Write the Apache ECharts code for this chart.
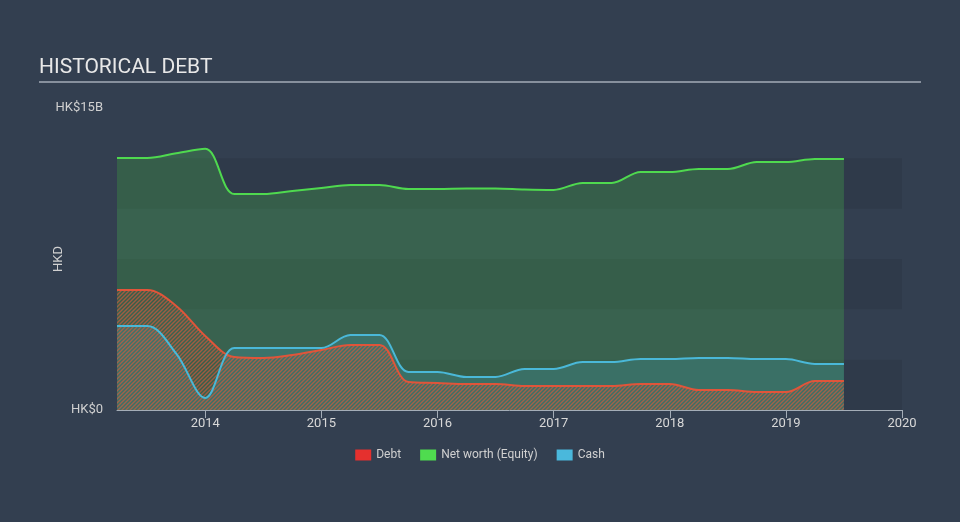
<!DOCTYPE html>
<html>
<head>
<meta charset="utf-8">
<script src="https://cdn.jsdelivr.net/npm/echarts@6/dist/echarts.min.js"></script>
<style>
html,body{margin:0;padding:0;background:#333f50;}
#c{width:960px;height:522px;}
</style>
</head>
<body>
<div id="c"></div>
<script>
const years = [2013.24,2013.5,2013.75,2014.0,2014.25,2014.5,2014.75,2015.0,2015.25,2015.5,2015.75,2016.0,2016.25,2016.5,2016.75,2017.0,2017.25,2017.5,2017.75,2018.0,2018.25,2018.5,2018.75,2019.0,2019.25,2019.5];
const debt = [5.96,5.96,5.17,3.68,2.63,2.58,2.73,2.98,3.23,3.23,1.39,1.34,1.29,1.29,1.19,1.19,1.19,1.19,1.29,1.29,0.99,0.99,0.89,0.89,1.44,1.44];
const equity = [12.52,12.52,12.75,12.97,10.73,10.73,10.88,11.03,11.18,11.18,10.98,10.98,11.0,11.0,10.95,10.93,11.28,11.28,11.82,11.82,11.97,11.97,12.32,12.32,12.47,12.47];
const cash = [4.17,4.17,2.8,0.6,3.08,3.08,3.08,3.08,3.73,3.73,1.89,1.89,1.64,1.64,2.04,2.04,2.38,2.38,2.53,2.53,2.58,2.58,2.53,2.53,2.29,2.29];
const xTicks = [2014,2015,2016,2017,2018,2019,2020];
const yLabels = {0:'HK$0', 15:'HK$15B'};

const pair = arr => years.map((y,i)=>[y,arr[i]]);

function hatch(color){
  const c = document.createElement('canvas');
  c.width = 4; c.height = 4;
  const g = c.getContext('2d');
  g.strokeStyle = color; g.lineWidth = 1.4;
  g.beginPath(); g.moveTo(0,4); g.lineTo(4,0); g.stroke();
  g.beginPath(); g.moveTo(-1,1); g.lineTo(1,-1); g.stroke();
  g.beginPath(); g.moveTo(3,5); g.lineTo(5,3); g.stroke();
  return c;
}

const SM = 0.35;
function areaSeries(name, data, itemColor, fill, z){
  return {name, type:'line', data:pair(data), smooth:SM, showSymbol:false, symbol:'none',
    itemStyle:{color:itemColor}, lineStyle:{width:0, opacity:0}, areaStyle:{color:fill, opacity:1}, z, silent:true};
}
function lineSeries(name, data, itemColor, lineColor, z){
  return {name, type:'line', data:pair(data), smooth:SM, showSymbol:false, symbol:'none',
    itemStyle:{color:itemColor}, lineStyle:{color:lineColor, width:2}, z};
}

const chart = echarts.init(document.getElementById('c'));
const font = 'Roboto';
chart.setOption({
  backgroundColor:'#333f50',
  textStyle:{fontFamily:font},
  title:{text:'HISTORICAL DEBT',left:39,top:57,padding:0,textStyle:{color:'#e8e8e8',fontSize:21,fontWeight:'normal',fontFamily:font}},
  graphic:[{type:'line',shape:{x1:39,y1:82,x2:921,y2:82},style:{stroke:'#a4adb7',lineWidth:1.5}}],
  legend:{bottom:56,left:'center',itemWidth:16,itemHeight:11,itemGap:19,icon:'rect',
    textStyle:{color:'#d0d0d0',fontSize:12,fontFamily:font},
    data:['Debt','Net worth (Equity)','Cash']},
  grid:{left:117,right:58,top:108,bottom:112},
  xAxis:{type:'value',min:2013.24,max:2020,
    axisLine:{lineStyle:{color:'#a4adb7',width:1}},
    axisTick:{customValues:xTicks,length:8,lineStyle:{color:'#a4adb7'}},
    axisLabel:{customValues:xTicks,color:'#d8d8d8',fontSize:13,margin:7,formatter:v=>String(Math.round(v))},
    splitLine:{show:false}},
  yAxis:{type:'value',min:0,max:15,interval:2.5,name:'HKD',nameLocation:'middle',nameGap:52,nameMoveOverlap:false,
    nameTextStyle:{color:'#d0d0d0',fontSize:13},
    axisLine:{show:false},axisTick:{show:false},
    axisLabel:{color:'#d0d0d0',fontSize:13,margin:14,showMaxLabel:true,formatter:v=>yLabels[v]!==undefined?yLabels[v]:''},
    splitLine:{show:false},
    splitArea:{show:true,areaStyle:{color:['rgba(0,0,0,0.07)','rgba(0,0,0,0)']}}},
  series:[
    areaSeries('Net worth (Equity)', equity, '#4fdc4f', 'rgba(76,217,76,0.23)', 2),
    areaSeries('Cash', cash, '#4ab8dc', 'rgba(74,184,216,0.2)', 3),
    areaSeries('Debt', debt, '#e5302e', {image:hatch('rgba(215,90,60,0.65)'),repeat:'repeat'}, 4),
    lineSeries('Net worth (Equity)', equity, '#4fdc4f', '#4fd94f', 5),
    lineSeries('Debt', debt, '#e5302e', '#e0553a', 6),
    lineSeries('Cash', cash, '#4ab8dc', '#4ab8d8', 7)
  ]
});
</script>
</body>
</html>
